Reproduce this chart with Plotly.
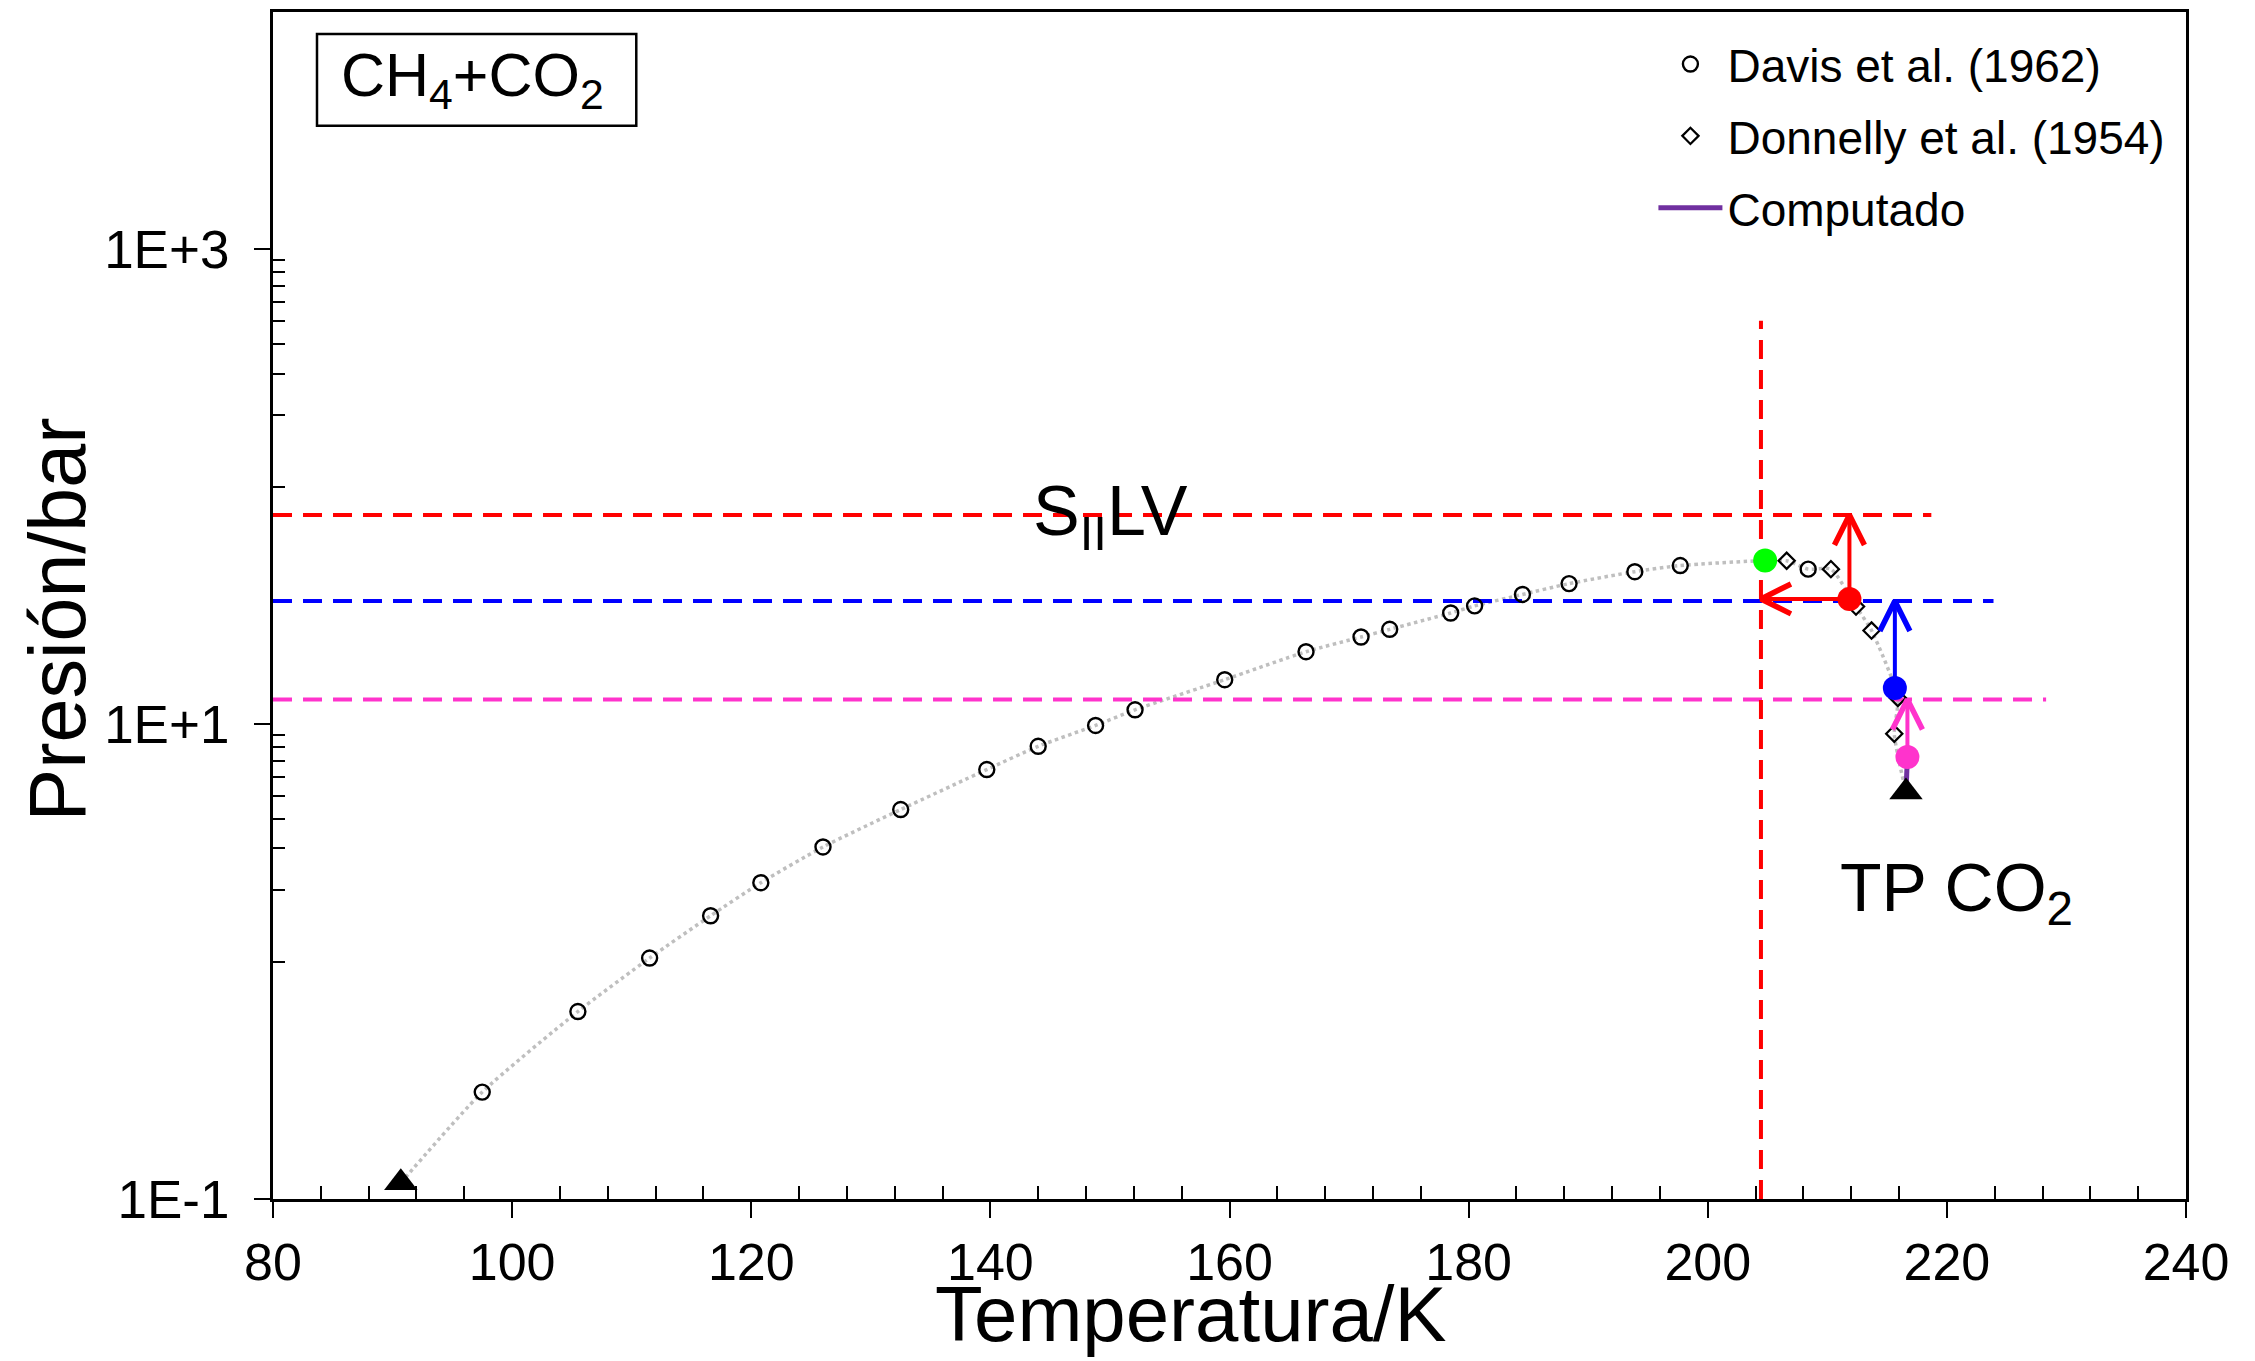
import math
import plotly.graph_objects as go

FONT = "Arial, 'Liberation Sans', sans-serif"

# ---------------- data ----------------
davis_T = [97.5, 105.5, 111.5, 116.6, 120.8, 126.0, 132.5, 139.7, 144.0, 148.8, 152.1,
           159.6, 166.4, 171.0, 173.4, 178.5, 180.5, 184.5, 188.4, 193.9, 197.7, 208.4]
davis_P = [0.282, 0.616, 1.035, 1.56, 2.15, 3.04, 4.37, 6.44, 8.07, 9.88, 11.5,
           15.4, 20.2, 23.3, 25.1, 29.4, 31.5, 35.2, 39.1, 43.9, 46.6, 45.0]

donnelly_T = [206.6, 210.3, 212.4, 213.7, 215.9, 215.6]
donnelly_P = [48.8, 45.0, 31.3, 24.8, 12.9, 9.12]

# triple points (CH4, CO2)
tp_T = [90.69, 216.58]
tp_P = [0.117, 5.18]

# special computed points: green, red, blue, pink
pt_T = [204.8, 211.85, 215.65, 216.7]
pt_P = [48.9, 33.7, 14.2, 7.28]
pt_color = ["#00FF00", "#FF0000", "#0000FF", "#FF33CC"]

# computed line
computed_T = [216.58, 216.7]
computed_P = [5.18, 7.28]

# horizontal reference levels (red, blue, pink)
level_P = [76.0, 33.0, 12.7]
level_Tend = [218.7, 223.9, 228.3]
level_color = ["#FF0000", "#0000FF", "#FF33CC"]

# vertical reference line
vline_T = 204.45
vline_P = [0.1, 500.0]

x_range = [80, 240]
y_range_log = [-1, 4]
x_major = list(range(80, 241, 20))
x_minor = [v for v in range(84, 240, 4) if v % 20 != 0]
y_major = [0.1, 10, 1000]
y_major_text = ["1E-1", "1E+1", "1E+3"]
y_minor = [1, 2, 3, 4, 5, 6, 7, 8, 9, 100, 200, 300, 400, 500, 600, 700, 800, 900]

W, H = 2255, 1361
M = dict(l=273, r=69, t=9, b=162)
PW = W - M["l"] - M["r"]
PH = H - M["t"] - M["b"]
PX_PER_K = PW / (x_range[1] - x_range[0])
PX_PER_DEC = PH / (y_range_log[1] - y_range_log[0])

fig = go.Figure()

# dotted guide curve through the data
left = sorted([(tp_T[0], tp_P[0])] + [(t, p) for t, p in zip(davis_T, davis_P) if t < 205]
              + [(pt_T[0], pt_P[0])])
right = sorted([(t, p) for t, p in zip(donnelly_T, donnelly_P)]
               + [(t, p) for t, p in zip(davis_T, davis_P) if t >= 205],
               key=lambda a: (-a[1], a[0])) + [(tp_T[1], tp_P[1])]
curve = left + right
fig.add_trace(go.Scatter(x=[c[0] for c in curve], y=[c[1] for c in curve], mode="lines",
                         line=dict(color="#BFBFBF", width=3.5, dash="dot", shape="spline", smoothing=0.6),
                         showlegend=False, hoverinfo="skip"))

# reference dashed lines
for p, te, col in zip(level_P, level_Tend, level_color):
    fig.add_trace(go.Scatter(x=[x_range[0], te], y=[p, p], mode="lines",
                             line=dict(color=col, width=4, dash="19px,11px"),
                             showlegend=False, hoverinfo="skip"))
fig.add_trace(go.Scatter(x=[vline_T, vline_T], y=vline_P, mode="lines",
                         line=dict(color="#FF0000", width=4, dash="19px,11px"),
                         showlegend=False, hoverinfo="skip"))

# experimental data
fig.add_trace(go.Scatter(x=davis_T, y=davis_P, mode="markers", name="Davis et al. (1962)",
                         legendgroup="a",
                         marker=dict(symbol="circle-open", size=15, color="black", line=dict(width=2.4))))
fig.add_trace(go.Scatter(x=donnelly_T, y=donnelly_P, mode="markers", name="Donnelly et al. (1954)",
                         legendgroup="b",
                         marker=dict(symbol="diamond-open", size=12.5, color="black", line=dict(width=2.2))))
fig.add_trace(go.Scatter(x=computed_T, y=computed_P, mode="lines", name="Computado",
                         legendgroup="c",
                         line=dict(color="#7030A0", width=5)))


# arrows (shaft + open V head), head geometry in pixels
def arrow(x0, y0, x1, y1, col):
    ax0, ay0 = (x0 - x_range[0]) * PX_PER_K, math.log10(y0) * PX_PER_DEC
    ax1, ay1 = (x1 - x_range[0]) * PX_PER_K, math.log10(y1) * PX_PER_DEC
    d = math.hypot(ax1 - ax0, ay1 - ay0)
    ux, uy = (ax1 - ax0) / d, (ay1 - ay0) / d
    nx, ny = -uy, ux
    L, Wd = 30.0, 15.0
    pts = []
    for s in (1, -1):
        hx = ax1 - L * ux + s * Wd * nx
        hy = ay1 - L * uy + s * Wd * ny
        pts.append((hx / PX_PER_K + x_range[0], 10 ** (hy / PX_PER_DEC)))
    fig.add_trace(go.Scatter(x=[x0, x1], y=[y0, y1], mode="lines",
                             line=dict(color=col, width=4), showlegend=False, hoverinfo="skip"))
    fig.add_trace(go.Scatter(x=[pts[0][0], x1, pts[1][0]], y=[pts[0][1], y1, pts[1][1]], mode="lines",
                             line=dict(color=col, width=5.5), showlegend=False, hoverinfo="skip"))


arrow(pt_T[1], pt_P[1], pt_T[1], level_P[0], "#FF0000")
arrow(pt_T[1], pt_P[1], vline_T, pt_P[1], "#FF0000")
arrow(pt_T[2], pt_P[2], pt_T[2], level_P[1], "#0000FF")
arrow(pt_T[3], pt_P[3], pt_T[3], level_P[2], "#FF33CC")

# special points
fig.add_trace(go.Scatter(x=pt_T, y=pt_P, mode="markers",
                         marker=dict(symbol="circle", size=24, color=pt_color),
                         showlegend=False, hoverinfo="skip"))
# triple points
fig.add_trace(go.Scatter(x=tp_T, y=tp_P, mode="markers",
                         marker=dict(symbol="triangle-up", size=29, color="black"),
                         showlegend=False, hoverinfo="skip"))

fig.update_layout(
    width=W, height=H, margin=M,
    plot_bgcolor="white", paper_bgcolor="white",
    font=dict(family=FONT, color="black"),
    showlegend=True,
    legend=dict(x=0.7216, y=0.9868, xanchor="left", yanchor="top",
                font=dict(size=46, family=FONT, color="black"),
                bgcolor="rgba(0,0,0,0)", tracegroupgap=9, itemwidth=64),
)

fig.update_xaxes(range=x_range, tickmode="array", tickvals=x_major,
                 ticks="outside", ticklen=16, tickwidth=2, tickcolor="black",
                 showline=True, linewidth=3, linecolor="black", mirror=True,
                 showgrid=False, zeroline=False, ticklabelstandoff=0,
                 tickfont=dict(size=52, family=FONT, color="black"),
                 minor=dict(tickmode="array", tickvals=x_minor, ticks="inside",
                            ticklen=13, tickwidth=2, tickcolor="black", showgrid=False))
fig.update_yaxes(type="log", range=y_range_log, tickmode="array", tickvals=y_major,
                 ticktext=y_major_text,
                 ticks="outside", ticklen=16, tickwidth=2, tickcolor="black",
                 showline=True, linewidth=3, linecolor="black", mirror=True,
                 showgrid=False, zeroline=False, ticklabelstandoff=14,
                 tickfont=dict(size=53, family=FONT, color="black"),
                 minor=dict(tickmode="array", tickvals=y_minor, ticks="inside",
                            ticklen=12, tickwidth=2, tickcolor="black", showgrid=False))

# axis titles and labels
fig.add_annotation(text="Temperatura/K", xref="paper", yref="paper", x=0.480, y=-0.097,
                   xanchor="center", yanchor="middle", showarrow=False,
                   font=dict(size=78, family=FONT, color="black"))
fig.add_annotation(text="Presión/bar", xref="paper", yref="paper", x=-0.1125, y=0.488,
                   xanchor="center", yanchor="middle", textangle=-90, showarrow=False,
                   font=dict(size=79, family=FONT, color="black"))
fig.add_annotation(text="S<sub>II</sub>LV", xref="paper", yref="paper", x=0.396, y=0.575,
                   xanchor="left", yanchor="middle", showarrow=False,
                   font=dict(size=70, family=FONT, color="black"))
fig.add_annotation(text="TP CO<sub>2</sub>", xref="paper", yref="paper", x=0.818, y=0.259,
                   xanchor="left", yanchor="middle", showarrow=False,
                   font=dict(size=68, family=FONT, color="black"))
fig.add_shape(type="rect", xref="paper", yref="paper", x0=0.023, x1=0.1899, y0=0.9042, y1=0.9814,
              line=dict(color="black", width=2.5), fillcolor="rgba(0,0,0,0)")
fig.add_annotation(text="CH<sub>4</sub>+CO<sub>2</sub>", xref="paper", yref="paper",
                   x=0.1045, y=0.943, xanchor="center", yanchor="middle", showarrow=False,
                   font=dict(size=61, family=FONT, color="black"))

fig.write_html("out.html")
